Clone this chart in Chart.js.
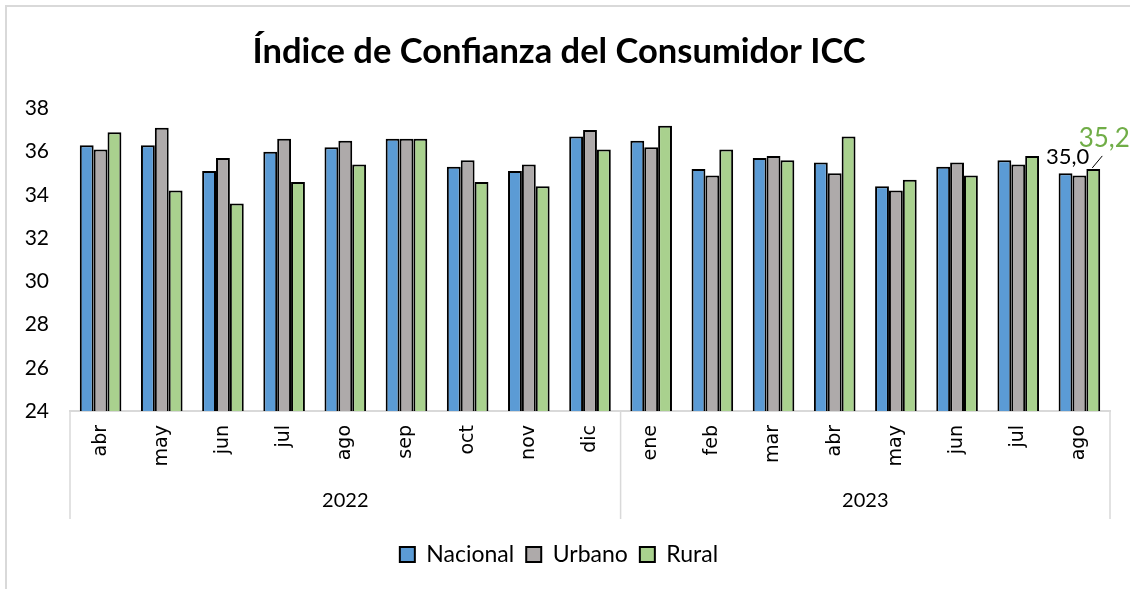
<!DOCTYPE html>
<html lang="es">
<head>
    <meta charset="UTF-8">
    <title>Índice de Confianza del Consumidor ICC</title>
    <script src="https://cdn.jsdelivr.net/npm/chart.js"></script>
    <style>
        html, body {
            margin: 0;
            padding: 0;
            background: #fff;
        }
        .chart-box {
            position: relative;
            width: 1130px;
            height: 589px;
        }
        .frame {
            position: absolute;
            left: 5px;
            top: 5px;
            right: 0;
            bottom: 0;
            border-left: 2px solid #d9d9d9;
            border-top: 2px solid #d9d9d9;
            pointer-events: none;
        }
    </style>
</head>
<body>
    <div class="chart-box">
        <canvas id="icc-chart" width="1130" height="589"></canvas>
        <div class="frame"></div>
    </div>

    <script>
        // data
        const months = ['abr', 'may', 'jun', 'jul', 'ago', 'sep', 'oct', 'nov', 'dic',
                        'ene', 'feb', 'mar', 'abr', 'may', 'jun', 'jul', 'ago'];
        const years = ['2022', '2023'];
        const monthsPerYear = [9, 8];

        const nacional = [36.3, 36.3, 35.1, 36.0, 36.2, 36.6, 35.3, 35.1, 36.7,
                          36.5, 35.2, 35.7, 35.5, 34.4, 35.3, 35.6, 35.0];
        const urbano   = [36.1, 37.1, 35.7, 36.6, 36.5, 36.6, 35.6, 35.4, 37.0,
                          36.2, 34.9, 35.8, 35.0, 34.2, 35.5, 35.4, 34.9];
        const rural    = [36.9, 34.2, 33.6, 34.6, 35.4, 36.6, 34.6, 34.4, 36.1,
                          37.2, 36.1, 35.6, 36.7, 34.7, 34.9, 35.8, 35.2];

        const yTicks = [24, 26, 28, 30, 32, 34, 36, 38];

        const calibri = "Lato, 'Open Sans', sans-serif";

        // year row under the month labels + separators (excel multi-level axis look)
        const yearAxisPlugin = {
            id: 'yearAxis',
            afterDraw(chart) {
                const ctx = chart.ctx;
                const x = chart.scales.x;
                const area = chart.chartArea;
                const half = (x.getPixelForValue(1) - x.getPixelForValue(0)) / 2;
                const bottom = area.bottom + 108;

                ctx.save();
                ctx.strokeStyle = '#d9d9d9';
                ctx.lineWidth = 1.5;
                ctx.fillStyle = '#000';
                ctx.font = '20px ' + calibri;
                ctx.textAlign = 'center';
                ctx.textBaseline = 'middle';

                let start = 0;
                const edges = [x.getPixelForValue(0) - half];
                years.forEach((yr, i) => {
                    const end = start + monthsPerYear[i] - 1;
                    const left = x.getPixelForValue(start) - half;
                    const right = x.getPixelForValue(end) + half;
                    edges.push(right);
                    ctx.fillText(yr, (left + right) / 2, area.bottom + 90);
                    start = end + 1;
                });
                edges.forEach(px => {
                    ctx.beginPath();
                    ctx.moveTo(px, area.bottom);
                    ctx.lineTo(px, bottom);
                    ctx.stroke();
                });
                ctx.restore();
            }
        };

        // the two value labels on the last month
        const lastLabelsPlugin = {
            id: 'lastLabels',
            afterDatasetsDraw(chart) {
                const ctx = chart.ctx;
                const last = months.length - 1;
                const bar = chart.getDatasetMeta(2).data[last];
                const fmt = v => v.toFixed(1).replace('.', ',');

                ctx.save();
                ctx.textBaseline = 'alphabetic';

                ctx.fillStyle = '#000';
                ctx.font = '22px ' + calibri;
                ctx.textAlign = 'right';
                ctx.fillText(fmt(nacional[last]), bar.x - 4, bar.y - 5);

                ctx.fillStyle = '#70ad47';
                ctx.font = '26px ' + calibri;
                ctx.textAlign = 'center';
                ctx.fillText(fmt(rural[last]), bar.x + 11, bar.y - 22);

                // leader line
                ctx.strokeStyle = '#000';
                ctx.lineWidth = 1;
                ctx.beginPath();
                ctx.moveTo(bar.x - 1, bar.y - 1);
                ctx.lineTo(bar.x + 9, bar.y - 13);
                ctx.stroke();
                ctx.restore();
            }
        };

        const ctx = document.getElementById('icc-chart').getContext('2d');
        new Chart(ctx, {
            type: 'bar',
            data: {
                labels: months,
                datasets: [
                    { label: 'Nacional', data: nacional, backgroundColor: '#5b9bd5' },
                    { label: 'Urbano', data: urbano, backgroundColor: '#aeaaaa' },
                    { label: 'Rural', data: rural, backgroundColor: '#a9d18e' }
                ].map(ds => Object.assign(ds, {
                    borderColor: '#000',
                    borderWidth: 2,
                    borderSkipped: 'bottom',
                    categoryPercentage: 0.68,
                    barPercentage: 1.0
                }))
            },
            options: {
                responsive: false,
                animation: false,
                layout: { padding: { left: 8, right: 20, top: 10, bottom: 13 } },
                plugins: {
                    title: {
                        display: true,
                        text: 'Índice de Confianza del Consumidor ICC',
                        color: '#000',
                        font: { family: calibri, size: 34.5, weight: 'bold' },
                        padding: { top: 21, bottom: 36 }
                    },
                    legend: {
                        position: 'bottom',
                        labels: {
                            color: '#000',
                            font: { family: calibri, size: 23 },
                            boxWidth: 15,
                            boxHeight: 15,
                            padding: 12
                        }
                    },
                    tooltip: { enabled: false }
                },
                scales: {
                    x: {
                        grid: { display: false },
                        border: { display: true, color: '#d9d9d9', width: 2 },
                        ticks: {
                            color: '#000',
                            font: { family: "'DejaVu Sans', Verdana, sans-serif", size: 19 },
                            minRotation: 90,
                            maxRotation: 90,
                            padding: 6
                        },
                        afterFit(scale) { scale.height = 120; }
                    },
                    y: {
                        min: 24,
                        max: 38,
                        grid: { display: false },
                        border: { display: false },
                        afterBuildTicks(scale) {
                            scale.ticks = yTicks.map(v => ({ value: v }));
                        },
                        ticks: {
                            color: '#000',
                            font: { family: calibri, size: 21 },
                            padding: 13
                        },
                        afterFit(scale) { scale.width = 62; }
                    }
                }
            },
            plugins: [yearAxisPlugin, lastLabelsPlugin]
        });
    </script>
</body>
</html>
